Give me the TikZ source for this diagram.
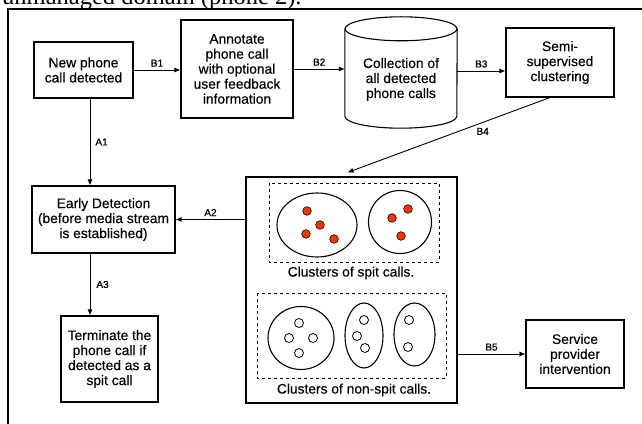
\documentclass[tikz,border=0pt]{standalone}
\usepackage{fontspec}
\setmainfont{Liberation Sans}[FakeBold=0.35]
\newfontfamily\headserif{Liberation Serif}
\newfontfamily\lblfont{Liberation Sans}[FakeBold=0.9]
\usetikzlibrary{arrows.meta}
\usetikzlibrary{calc}
\usetikzlibrary{positioning}

\definecolor{spitred}{RGB}{255,51,0}
\tikzset{
    stepbox/.style={draw, line width=1.1pt, align=center, inner sep=2pt,
        font=\fontsize{13.8}{15}\selectfont},
    flow/.style={line width=0.9pt, -{Latex[length=6pt,width=5pt]}},
    lbl/.style={font=\lblfont\fontsize{10}{11}\selectfont, inner sep=3pt},
    capt/.style={font=\fontsize{13.8}{15}\selectfont, inner sep=0pt},
}

\begin{document}
\begin{tikzpicture}[x=1pt, y=1pt]
    \useasboundingbox (0,0) rectangle (642,423);
    \node[anchor=base west, inner sep=0pt, font=\headserif\fontsize{24.5}{28}\selectfont] (head) at (2,418) {unmanaged domain (phone 2).};
    \draw[line width=1.1pt] (8,-5) -- (8,414) -- (650,414);

    \node[stepbox, minimum width=99pt, minimum height=56pt] (newcall) at (83.5,353) {New phone\\call detected};
    \node[stepbox, minimum width=112pt, minimum height=98pt] (annotate) at (237,354) {Annotate\\phone call\\with optional\\user feedback\\information};
    \node[minimum width=112pt, minimum height=111pt, inner sep=0pt, align=center,
        font=\fontsize{13.8}{15}\selectfont, text depth=0pt] (store) at (401,350.5) {\\[6pt]Collection of\\all detected\\phone calls};
    \node[stepbox, minimum width=108pt, minimum height=69pt] (semi) at (560,360.5) {Semi-\\supervised\\clustering};
    \node[stepbox, minimum width=143pt, minimum height=67pt] (early) at (103.5,203.5) {Early Detection\\(before media stream\\is established)};
    \node[stepbox, minimum width=97pt, minimum height=86pt] (terminate) at (109.5,64) {Terminate the\\phone call if\\detected as a\\spit call};
    \node[stepbox, minimum width=211pt, minimum height=226pt] (clusters) at (351.5,133) {};
    \node[stepbox, minimum width=98pt, minimum height=68pt] (service) at (575,69) {Service\\provider\\intervention};

    % cylinder
    \draw[line width=1.1pt] (store.north west) ++(0,-12) coordinate (cyltop)
        -- ($(store.south west)+(0,12)$) arc (180:360:56pt and 12pt) -- ($(store.north east)+(0,-12)$);
    \draw[line width=1.1pt] ($(store.north)+(0,-12)$) ellipse (56pt and 12pt);

    % clusters of spit calls
    \draw[dashed, line width=0.9pt] (269,240) rectangle (439,161);
    \draw[line width=1.1pt] (317,198) ellipse (40pt and 32pt);
    \draw[line width=1.1pt] (400,201) ellipse (31.5pt and 31.5pt);
    \foreach \x/\y in {307/212, 320/198, 306/189, 334/184, 408/214, 392/205, 401/187} {
        \filldraw[fill=spitred, draw=black, line width=0.6pt] (\x,\y) circle (4.3pt);
    }
    \node[capt] (spitcapt) at (351,150) {Clusters of spit calls.};

    % clusters of non-spit calls
    \draw[dashed, line width=0.9pt] (257,130) rectangle (446,45);
    \draw[line width=1.1pt] (301,85) ellipse (33pt and 31.5pt);
    \draw[line width=1.1pt] (364,87.5) ellipse (19pt and 32.5pt);
    \draw[line width=1.1pt] (414.5,88.5) ellipse (20.5pt and 31.5pt);
    \foreach \x/\y in {299/100, 289/85, 313/85, 299/70, 364/103, 357/87, 365/75, 409/103, 408/76} {
        \filldraw[fill=white, draw=black, line width=0.8pt] (\x,\y) circle (4.5pt);
    }
    \node[capt] (hamcapt) at (354,33) {Clusters of non-spit calls.};

    % connectors
    \coordinate (spine) at (90,0);
    \draw[flow] (newcall.east) -- (newcall.east -| annotate.west) node[lbl, midway, above] {B1};
    \draw[flow] (annotate.east) -- (annotate.east -| store.west) node[lbl, midway, above] {B2};
    \draw[flow] ($(store.east)+(0,1.5)$) -- ($(store.east -| semi.west)+(0,1.5)$) node[lbl, midway, above] {B3};
    \draw[flow] ([xshift=-10pt]semi.south) -- ([xshift=-4pt, yshift=4pt]clusters.north) node[lbl, pos=0.36, below right, xshift=-4pt] {B4};
    \draw[flow] (service.west -| clusters.east) -- (service.west) node[lbl, midway, above] {B5};
    \draw[flow] (newcall.south -| spine) -- (early.north -| spine) node[lbl, midway, right, xshift=2pt] {A1};
    \draw[flow] (clusters.west |- early.east) -- (early.east) node[lbl, midway, above] {A2};
    \draw[flow] (early.south -| spine) -- (terminate.north -| spine) node[lbl, midway, right, xshift=3pt] {A3};
\end{tikzpicture}
\end{document}
